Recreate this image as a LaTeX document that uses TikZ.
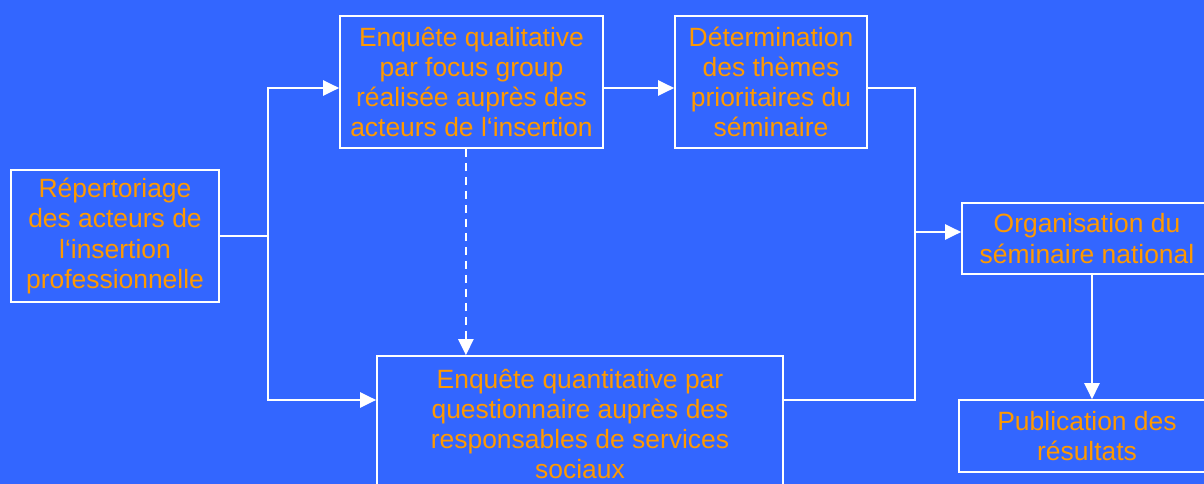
\documentclass[tikz,border=0pt]{standalone}
\usepackage{fontspec}
\setmainfont{Liberation Sans}
\usetikzlibrary{arrows.meta}
\definecolor{bgblue}{HTML}{3366FF}
\definecolor{txtorange}{HTML}{FF9900}
\begin{document}
\begin{tikzpicture}[
    x=0.025cm, y=-0.025cm,
    every node/.style={
    font=\fontsize{18.8}{21.5}\selectfont, text=txtorange},
    box/.style={draw=white, line width=1.2pt, align=center, inner sep=0pt},
    link/.style={draw=white, line width=1.3pt},
    arrow/.style={link, -{Triangle[length=0.4cm, width=0.38cm]}}]
    \useasboundingbox (0,0) rectangle (1204,484);
    \fill[bgblue] (0,0) rectangle (1204,484);
    \clip (0,0) rectangle (1204,484);

    % the boxes
    \node[box, minimum width=5.2cm, minimum height=3.3cm] (rep) at (115,236)
        {R\'epertoriage\\des acteurs de\\l`insertion\\professionnelle};
    \node[box, minimum width=6.575cm, minimum height=3.3cm] (qual) at (471.5,82)
        {Enqu\^ete qualitative\\par focus group\\r\'ealis\'ee aupr\`es des\\acteurs de l`insertion};
    \node[box, minimum width=4.8cm, minimum height=3.3cm] (themes) at (771,82)
        {D\'etermination\\des th\`emes\\prioritaires du\\s\'eminaire};
    \node[box, minimum width=10.15cm, minimum height=3.4cm] (quant) at (580,424)
        {Enqu\^ete quantitative par\\questionnaire aupr\`es des\\responsables de services\\sociaux};
    \node[box, minimum width=6.25cm, minimum height=1.775cm] (orga) at (1087,238.5)
        {Organisation du\\s\'eminaire national};
    \node[box, minimum width=6.4cm, minimum height=1.8cm] (pub) at (1087,436)
        {Publication des\\r\'esultats};

    % the connectors
    \coordinate (lj) at (268,236);
    \coordinate (rj) at (915,232);
    \coordinate (dq) at ([xshift=-0.14cm]qual.south);
    \coordinate (op) at ([xshift=0.125cm]orga.south);
    \draw[link] (rep) -- (lj);
    \draw[arrow] (lj) |- ([yshift=-0.15cm]qual.west);
    \draw[arrow] (lj) |- ([yshift=0.6cm]quant.west);
    \draw[arrow] ([yshift=-0.15cm]qual.east) -- ([yshift=-0.15cm]themes.west);
    \draw[link] ([yshift=-0.15cm]themes.east) -| (rj) |- ([yshift=0.6cm]quant.east);
    \draw[arrow] (rj) -- (rj -| orga.west);
    \draw[arrow, dash pattern=on 0.2cm off 0.15cm] (dq) -- (dq |- quant.north);
    \draw[arrow] (op) -- (op |- pub.north);
\end{tikzpicture}
\end{document}
